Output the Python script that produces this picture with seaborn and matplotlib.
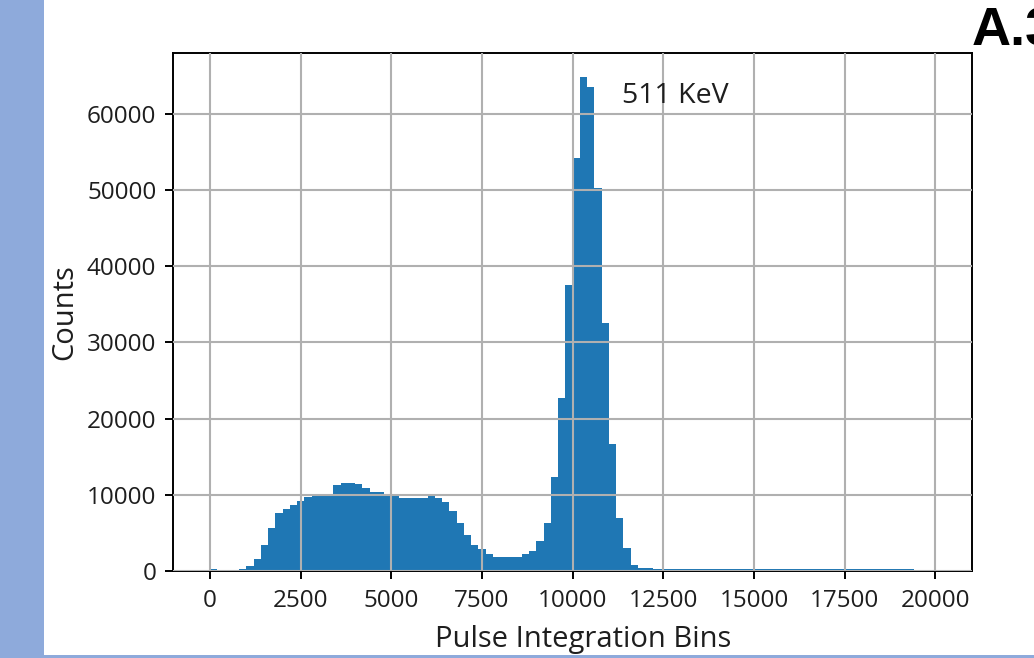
import numpy as np
import pandas as pd
import matplotlib
matplotlib.use("Agg")
import matplotlib.pyplot as plt
from matplotlib.patches import Rectangle
import seaborn as sns

# ---- data ----
bin_low = 0
bin_high = 20000
n_bins = 100
counts = [
    310, 0, 0, 40, 310, 620, 1550, 3450, 5660, 7610,
    8190, 8630, 9160, 9650, 9780, 9820, 9870, 11280, 11600, 11600,
    11350, 10900, 10400, 10400, 10000, 9850, 9510, 9510, 9510, 9510,
    9820, 9510, 9070, 7880, 6280, 4730, 3450, 2880, 2210, 1900,
    1900, 1900, 1900, 2210, 2570, 3900, 6300, 12360, 22630, 37480,
    54220, 64780, 63470, 50290, 32540, 16640, 6930, 3000, 750, 450,
    350, 300, 290, 280, 280, 270, 270, 260, 260, 260,
    250, 250, 250, 240, 240, 240, 240, 230, 230, 230,
    230, 220, 220, 220, 220, 220, 210, 210, 210, 210,
    210, 200, 200, 200, 200, 200, 200, 190, 190, 190,
]
x_ticks = [0, 2500, 5000, 7500, 10000, 12500, 15000, 17500, 20000]
y_ticks = [0, 10000, 20000, 30000, 40000, 50000, 60000]
annotation = "511 KeV"
x_label = "Pulse Integration Bins"
y_label = "Counts"
panel_label = "A.3"

edges = np.linspace(bin_low, bin_high, n_bins + 1)
centers = (edges[:-1] + edges[1:]) / 2
df = pd.DataFrame({"bin": centers, "count": counts})

sns.set_theme(style="ticks")
plt.rcParams["font.family"] = ["Open Sans", "DejaVu Sans"]

W, H = 1034, 658
fig = plt.figure(figsize=(W / 100, H / 100), dpi=100)
fig.patch.set_facecolor("white")

# decorative frame strips of the slide
fig.add_artist(Rectangle((0, 0), 44 / W, 1, transform=fig.transFigure,
                         facecolor="#8eaadb", edgecolor="none", zorder=0))
fig.add_artist(Rectangle((0, 0), 1, 3 / H, transform=fig.transFigure,
                         facecolor="#8eaadb", edgecolor="none", zorder=0))

ax_l, ax_r, ax_t, ax_b = 173, 971.7, 53.3, 571
ax = fig.add_axes([ax_l / W, 1 - ax_b / H, (ax_r - ax_l) / W, (ax_b - ax_t) / H])

sns.histplot(data=df, x="bin", weights="count", bins=n_bins,
             binrange=(bin_low, bin_high), ax=ax,
             color="#1f77b4", alpha=1.0, edgecolor="none", linewidth=0,
             element="bars", stat="count")

ax.set_xlim(-1020, 21000)
ax.set_ylim(0, 67900)
ax.set_xticks(x_ticks)
ax.set_yticks(y_ticks)
ax.set_xticklabels([str(t) for t in x_ticks])
ax.set_yticklabels([str(t) for t in y_ticks])

ax.grid(True, color="#b0b0b0", linewidth=1.5)
ax.set_axisbelow(False)
for s in ax.spines.values():
    s.set_visible(True)
    s.set_color("black")
    s.set_linewidth(1.4)
ax.tick_params(axis="both", which="major", labelsize=17.5, length=6, width=1.4,
               color="black", labelcolor="#1e1e1e", direction="out")
ax.tick_params(axis="x", pad=7)
ax.tick_params(axis="y", pad=6)

ax.set_xlabel(x_label, fontsize=21, color="#1e1e1e")
ax.xaxis.label.set_va("baseline")
ax.xaxis.set_label_coords((583 - ax_l) / (ax_r - ax_l), (ax_b - 647) / (ax_b - ax_t))

ax.set_ylabel(y_label, fontsize=21, color="#1e1e1e")
ax.yaxis.label.set_va("center")
ax.yaxis.set_label_coords((65 - ax_l) / (ax_r - ax_l), 0.50)

ax.text(11360, 61400, annotation, fontsize=20.5, color="#1e1e1e",
        ha="left", va="baseline")

fig.text(972 / W, 1 - 45 / H, panel_label, fontsize=39, fontweight="bold",
         color="black", ha="left", va="baseline",
         family=["Liberation Sans", "DejaVu Sans"])

fig.savefig("out.png", dpi=100)
